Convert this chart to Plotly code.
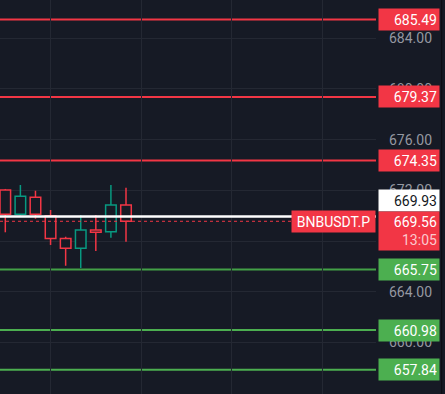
import plotly.graph_objects as go

# ---- data ----
candle_idx = [0, 1, 2, 3, 4, 5, 6, 7, 8]
opens  = [672.03, 670.11, 671.45, 670.00, 668.21, 667.43, 668.87, 668.74, 670.84]
highs  = [672.11, 672.42, 671.97, 670.45, 668.34, 670.05, 670.05, 672.42, 672.21]
lows   = [668.69, 670.00, 669.76, 667.69, 666.05, 665.87, 667.21, 668.26, 667.95]
closes = [670.11, 671.53, 670.11, 668.21, 667.43, 668.87, 668.69, 670.84, 669.56]

resistance_levels = [685.49, 679.37, 674.35]
support_levels = [665.75, 660.98, 657.84]
white_level = 669.93
last_price = 669.56
countdown = "13:05"
symbol = "BNBUSDT.P"
tick_values = [656, 660, 664, 668, 672, 676, 680, 684]
tick_labels = ["%.2f" % v for v in tick_values]

BG = "#161a25"
GRID = "#242833"
RED = "#f23645"
TEAL = "#089981"
GREEN = "#4caf50"
GREEN_DARK = "#43a047"

W, H = 445, 394
PLOT_W = 376

fig = go.Figure()

# wicks (outside the bodies)
for up, col in ((True, TEAL), (False, RED)):
    wx, wy = [], []
    for i, o, h, l, c in zip(candle_idx, opens, highs, lows, closes):
        if (c >= o) != up:
            continue
        top, bot = max(o, c), min(o, c)
        wx += [i, i, None, i, i, None]
        wy += [h, top, None, bot, l, None]
    fig.add_trace(go.Scatter(x=wx, y=wy, mode="lines",
                             line=dict(color=col, width=1.5),
                             hoverinfo="skip", showlegend=False))

# hollow bodies
fig.add_trace(go.Bar(
    x=candle_idx,
    y=[abs(c - o) for o, c in zip(opens, closes)],
    base=[min(o, c) for o, c in zip(opens, closes)],
    width=0.7,
    marker=dict(color=BG,
                line=dict(color=[TEAL if c >= o else RED for o, c in zip(opens, closes)],
                          width=1.5)),
    hoverinfo="skip", showlegend=False,
))

for lv in resistance_levels:
    fig.add_hline(y=lv, line=dict(color=RED, width=2), layer="below")
for i, lv in enumerate(support_levels):
    fig.add_hline(y=lv, line=dict(color=GREEN_DARK if i == 0 else GREEN, width=2), layer="below")

fig.add_hline(y=white_level, line=dict(color="#ffffff", width=2.5), layer="above")
fig.add_hline(y=last_price, line=dict(color=RED, width=1, dash="dot"), layer="above")

# right-side price labels
lab_x = 377.7 / PLOT_W
def price_label(y, text, bg, fg="#ffffff", yshift=0):
    fig.add_annotation(
        xref="paper", yref="y", x=lab_x, y=y, xanchor="left", yanchor="middle",
        yshift=yshift,
        text=text, showarrow=False, align="right",
        font=dict(family="Roboto", size=14, color=fg),
        bgcolor=bg, width=56, height=17, borderpad=2,
    )

for lv in resistance_levels:
    price_label(lv, "%.2f" % lv, RED)
for lv in support_levels:
    price_label(lv, "%.2f" % lv, GREEN)
# stacked above the last-price label (as the platform does to avoid overlap)
price_label(white_level, "%.2f" % white_level, "#ffffff", "#131722", yshift=16.4)

fig.add_annotation(
    xref="paper", yref="y", x=lab_x, y=last_price, xanchor="left", yanchor="top",
    yshift=10.5,
    text="%.2f<br><span style='color:#fbc9ce'>%s</span>" % (last_price, countdown),
    showarrow=False, align="right",
    font=dict(family="Roboto", size=14, color="#ffffff"),
    bgcolor=RED, width=56, height=34, borderpad=2,
)
fig.add_annotation(
    xref="paper", yref="y", x=1.0, y=last_price, xanchor="right", yanchor="middle",
    text=symbol, showarrow=False, align="center",
    font=dict(family="Roboto", size=14, color="#ffffff"),
    bgcolor=RED, width=79, height=17, borderpad=2,
)

# thin right border of the price scale
fig.add_shape(type="line", xref="paper", yref="paper",
              x0=441.7 / PLOT_W, x1=441.7 / PLOT_W, y0=0, y1=1,
              line=dict(color="#0b0d12", width=1))

fig.update_layout(
    width=W, height=H,
    margin=dict(l=0, r=W - PLOT_W, t=0, b=0),
    paper_bgcolor=BG, plot_bgcolor=BG,
    showlegend=False,
    barmode="overlay",
    xaxis=dict(range=[-0.351, 24.57],
               tickmode="linear", tick0=3, dtick=6, showticklabels=False,
               showgrid=True, gridcolor=GRID, gridwidth=1, zeroline=False,
               showline=False, fixedrange=True),
    yaxis=dict(range=[655.93, 687.02], side="right",
               tickvals=tick_values, ticktext=tick_labels,
               ticks="", ticklabelstandoff=12,
               tickfont=dict(family="Roboto", size=14, color="#9598a1"),
               showgrid=True, gridcolor=GRID, gridwidth=1, zeroline=False,
               showline=False, fixedrange=True),
)

fig.write_html("out.html", config={"displayModeBar": False},
               post_script="document.body.style.margin='0';document.body.style.background='%s';" % BG)
